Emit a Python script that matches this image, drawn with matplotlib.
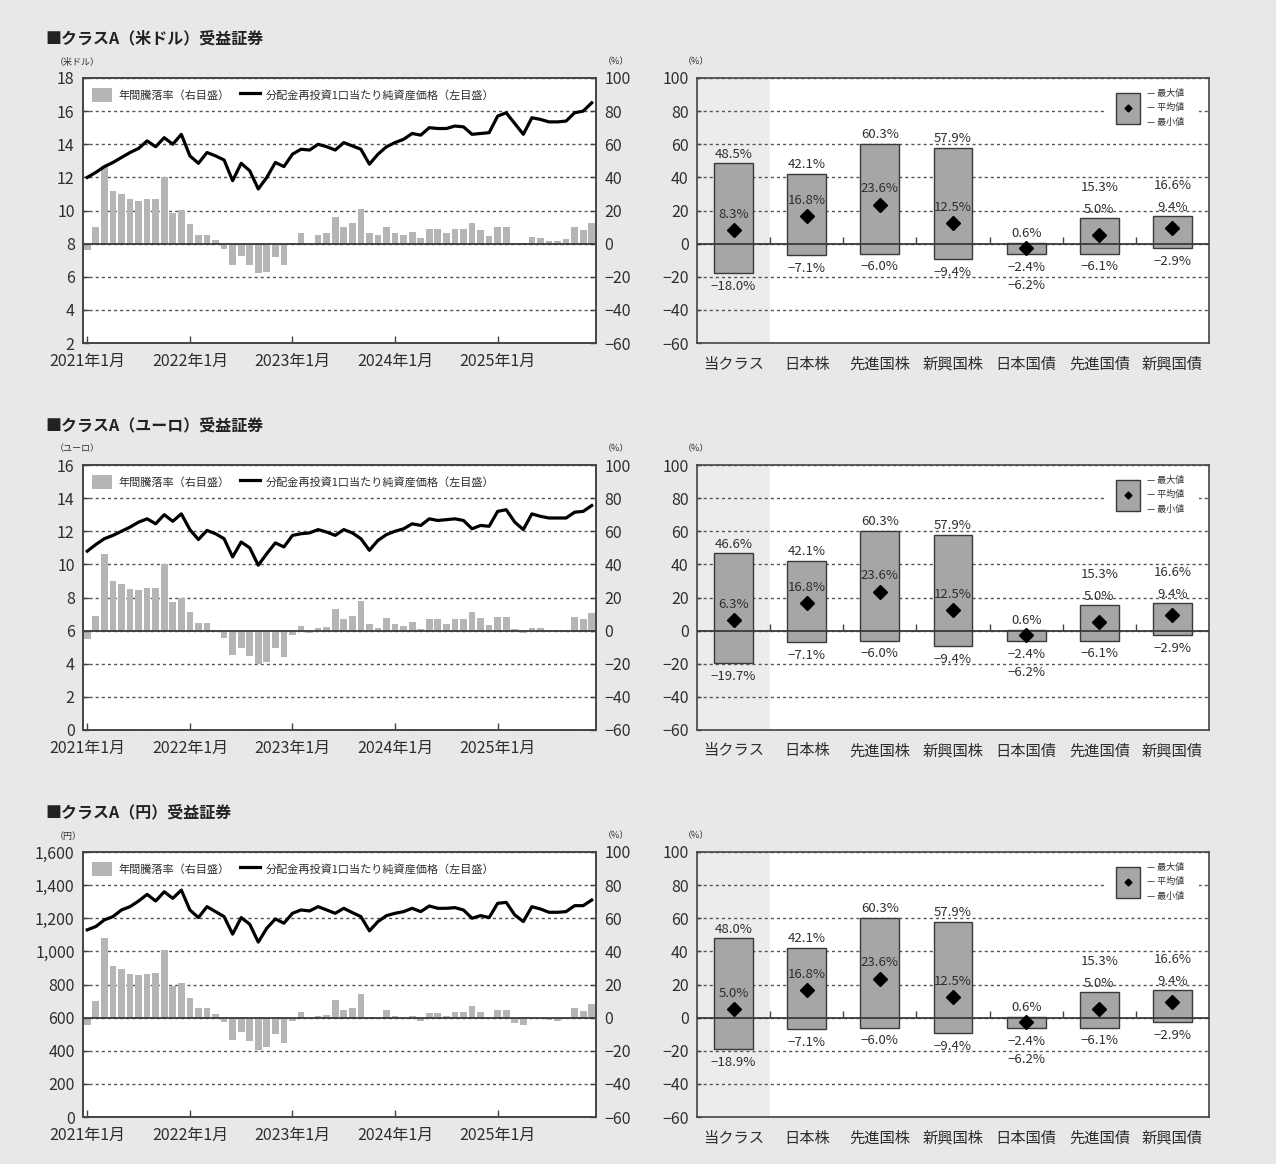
import numpy as np
import matplotlib
matplotlib.use("Agg")
import matplotlib.pyplot as plt
from matplotlib.patches import Patch, Rectangle
from matplotlib.lines import Line2D
from matplotlib.ticker import FuncFormatter

plt.rcParams["font.family"] = ["Noto Sans CJK JP", "DejaVu Sans"]
plt.rcParams["axes.unicode_minus"] = True

# ---------------- data ----------------
year_ticks = [0, 12, 24, 36, 48]
year_labels = ["2021年1月", "2022年1月", "2023年1月", "2024年1月", "2025年1月"]

titles = ["■クラスA（米ドル）受益証券", "■クラスA（ユーロ）受益証券", "■クラスA（円）受益証券"]
price_units = ["（米ドル）", "（ユーロ）", "（円）"]

# NAV per unit with distributions reinvested (monthly, Jan 2021 - Dec 2025)
nav_usd = [12.0, 12.3, 12.65, 12.9, 13.2, 13.5, 13.75, 14.2, 13.85, 14.4,
           14.0, 14.6, 13.3, 12.85, 13.5, 13.3, 13.05, 11.8, 12.85, 12.4,
           11.3, 12.0, 12.9, 12.65, 13.4, 13.7, 13.65, 14.0, 13.85, 13.65,
           14.1, 13.9, 13.7, 12.8, 13.4, 13.85, 14.1, 14.3, 14.65, 14.55,
           15.0, 14.95, 14.95, 15.1, 15.05, 14.6, 14.65, 14.7, 15.7, 15.9,
           15.25, 14.6, 15.6, 15.5, 15.35, 15.35, 15.4, 15.9, 16.0, 16.5]
nav_eur = [10.8, 11.2, 11.55, 11.75, 12.0, 12.25, 12.55, 12.75, 12.45, 13.0,
           12.6, 13.05, 12.1, 11.5, 12.05, 11.85, 11.55, 10.45, 11.35, 11.0,
           9.95, 10.65, 11.3, 11.05, 11.75, 11.85, 11.9, 12.1, 11.95, 11.75,
           12.1, 11.9, 11.55, 10.85, 11.45, 11.8, 12.0, 12.15, 12.45, 12.35,
           12.75, 12.65, 12.7, 12.75, 12.65, 12.15, 12.35, 12.3, 13.2, 13.3,
           12.55, 12.1, 13.05, 12.9, 12.8, 12.8, 12.8, 13.15, 13.2, 13.55]
nav_jpy = [1130, 1150, 1190, 1210, 1250, 1270, 1304, 1344, 1304, 1360,
           1320, 1370, 1250, 1204, 1270, 1240, 1210, 1104, 1204, 1164,
           1056, 1140, 1196, 1170, 1230, 1250, 1244, 1270, 1250, 1230,
           1260, 1234, 1210, 1124, 1180, 1216, 1230, 1240, 1260, 1240,
           1274, 1260, 1260, 1264, 1250, 1200, 1216, 1204, 1290, 1296,
           1220, 1180, 1270, 1256, 1236, 1236, 1240, 1276, 1276, 1310]

# 12-month returns (%)
ret_usd = [-4, 10, 47, 32, 30, 27, 25.5, 27, 27, 40,
           18.5, 20.5, 12, 5, 5.5, 2, -3, -13, -7.5, -13,
           -17.5, -17, -8, -13, 0.3, 6.5, 0.5, 5.5, 6.5, 16,
           10, 12.4, 21, 6.4, 5, 10, 6.4, 5, 7, 3.4,
           8.6, 9, 6.4, 9, 9, 12.4, 8.4, 4.6, 10, 10,
           0.5, 0.2, 4, 3.6, 1.6, 1.6, 2.6, 10, 8.4, 12.4]
ret_eur = [-5, 8.8, 46, 30, 28, 25, 24.5, 26, 26, 40,
           17.5, 20, 11, 4.4, 4.4, 0.4, -4.6, -14.6, -10.6, -15.6,
           -20, -19, -10.6, -16, -2.6, 2.8, -1.2, 1.4, 2.4, 12.8,
           6.8, 8.8, 17.8, 3.8, 1.8, 7.4, 3.8, 2.8, 5.4, 1,
           6.8, 6.8, 4, 7, 7, 11.2, 7.4, 3.4, 8, 8,
           0.8, -1.2, 1.8, 1.4, 0.4, 0.2, 0.6, 8, 6.8, 10.4]
ret_jpy = [-4.4, 10, 48, 31, 29.6, 26.6, 26, 26.6, 27.2, 40.6,
           19, 21, 11.6, 5.6, 5.6, 2, -2.4, -13.4, -8.8, -14,
           -19.4, -18, -10, -15.4, -2, 3.6, -0.8, 1, 1.6, 10.6,
           4.6, 6, 14, 0.6, -0.6, 4.4, 0.8, -0.4, 1, -2,
           2.6, 2.6, 0.8, 3.2, 3.2, 7, 3.2, 0, 4.6, 4.6,
           -3.4, -4.4, 0, -0.4, -1.4, -2, -1, 5.6, 4, 8.4]

nav_series = [nav_usd, nav_eur, nav_jpy]
ret_series = [ret_usd, ret_eur, ret_jpy]
nav_limits = [(2, 18, 2), (0, 16, 2), (0, 1600, 200)]

# comparison with other asset classes (max / mean / min of 12-month returns, %)
categories = ["当クラス", "日本株", "先進国株", "新興国株", "日本国債", "先進国債", "新興国債"]
asset_max = [42.1, 60.3, 57.9, 0.6, 15.3, 16.6]
asset_avg = [16.8, 23.6, 12.5, -2.4, 5.0, 9.4]
asset_min = [-7.1, -6.0, -9.4, -6.2, -6.1, -2.9]
class_max = [48.5, 46.6, 48.0]
class_avg = [8.3, 6.3, 5.0]
class_min = [-18.0, -19.7, -18.9]

legend_ret = "年間騰落率（右目盛）"
legend_nav = "分配金再投資1口当たり純資産価格（左目盛）"
range_labels = ["最大値", "平均値", "最小値"]

# ---------------- styling ----------------
W, H = 1276, 1164
BG = "#e8e8e8"
TXT = "#2e2e2e"
SPINE = "#444444"
BAR = "#b5b5b5"
BOX = "#a6a6a6"
GRID_LS = (0, (2.2, 2.2))


def rect(x0, y0, x1, y1):
    return [x0 / W, 1 - y1 / H, (x1 - x0) / W, (y1 - y0) / H]


def minus(s):
    return s.replace("-", "\u2212")


fig = plt.figure(figsize=(W / 100, H / 100), dpi=100, facecolor=BG)

row_step = 387
for r in range(3):
    dy = r * row_step
    top, bottom = 78 + dy, 343 + dy

    fig.text(45 / W, 1 - (38 + dy) / H, titles[r], fontsize=11.5, fontweight="bold",
             color="#222222", va="center", ha="left")

    # ---------- left: NAV line + annual return bars ----------
    axp = fig.add_axes(rect(83, top, 596, bottom))
    axr = axp.twinx()
    axp.set_zorder(axr.get_zorder() + 1)
    axp.patch.set_visible(False)
    axr.patch.set_visible(True)
    axr.patch.set_facecolor("white")

    x = np.arange(len(ret_series[r]))
    axr.bar(x, ret_series[r], width=0.78, color=BAR, zorder=2)
    axr.set_ylim(-60, 100)
    axr.set_yticks(range(-60, 101, 20))
    axr.yaxis.set_major_formatter(FuncFormatter(lambda v, _: minus(f"{int(v)}")))
    axr.set_axisbelow(True)
    axr.yaxis.grid(True, linestyle=GRID_LS, color="#555555", linewidth=1.0)
    axr.axhline(0, color="#3a3a3a", linewidth=1.3, zorder=3)

    axp.plot(x, nav_series[r], color="black", linewidth=2.3, zorder=4)
    lo, hi, step = nav_limits[r]
    axp.set_ylim(lo, hi)
    axp.set_yticks(np.arange(lo, hi + step / 2, step))
    if r == 2:
        axp.yaxis.set_major_formatter(FuncFormatter(lambda v, _: f"{int(v):,}"))
    else:
        axp.yaxis.set_major_formatter(FuncFormatter(lambda v, _: f"{int(v)}"))
    axp.set_xlim(-0.5, len(x) - 0.5)
    axp.set_xticks(year_ticks)
    axp.set_xticklabels(year_labels)

    for a in (axp, axr):
        for s in a.spines.values():
            s.set_color(SPINE)
            s.set_linewidth(1.2)
        a.tick_params(axis="both", direction="in", length=4, width=1, color=SPINE,
                      labelsize=11.5, labelcolor=TXT, pad=6)
    axp.tick_params(axis="x", length=5, pad=7)

    handles = [Patch(facecolor=BAR, edgecolor="none"),
               Line2D([], [], color="black", linewidth=2.3)]
    leg = axp.legend(handles, [legend_ret, legend_nav], loc="upper left",
                     bbox_to_anchor=(0.012, 0.975), ncol=2, fontsize=8,
                     frameon=True, facecolor="white", edgecolor="none", framealpha=1,
                     handlelength=1.8, handleheight=1.6, handletextpad=0.5,
                     columnspacing=1.0, borderpad=0.3, borderaxespad=0.0)
    for t in leg.get_texts():
        t.set_color(TXT)
    leg.get_frame().set_boxstyle("square", pad=0)

    fig.text(55 / W, 1 - (62 + dy) / H, price_units[r], fontsize=6.5, color=TXT,
             ha="left", va="center")
    fig.text(603 / W, 1 - (62 + dy) / H, "（%）", fontsize=6.5, color=TXT,
             ha="left", va="center")

    # ---------- right: range of returns by asset class ----------
    ax = fig.add_axes(rect(697, top, 1209, bottom))
    ax.set_facecolor("white")
    vmax = [class_max[r]] + asset_max
    vavg = [class_avg[r]] + asset_avg
    vmin = [class_min[r]] + asset_min
    cx = np.arange(len(categories))

    ax.axvspan(-0.5, 0.5, color="#ececec", zorder=0, linewidth=0)
    ax.set_xlim(-0.5, len(categories) - 0.5)
    ax.set_ylim(-60, 100)
    ax.set_yticks(range(-60, 101, 20))
    ax.yaxis.set_major_formatter(FuncFormatter(lambda v, _: minus(f"{int(v)}")))
    ax.set_axisbelow(True)
    ax.yaxis.grid(True, linestyle=GRID_LS, color="#555555", linewidth=1.0)

    ax.bar(cx, np.subtract(vmax, vmin), bottom=vmin, width=0.53, color=BOX,
           edgecolor="#3a3a3a", linewidth=1.0, zorder=2)
    ax.axhline(0, color="#3a3a3a", linewidth=1.3, zorder=3)
    ax.plot(cx[:-1] + 0.5, np.zeros(len(cx) - 1), linestyle="none", marker=2,
            markersize=5, markeredgewidth=1.0, color="#444444", zorder=3)
    ax.plot(cx, vavg, linestyle="none", marker="D", markersize=7, color="black", zorder=4)

    def pct(v):
        return minus(f"{v:.1f}%")

    lab_kw = dict(fontsize=9.5, color=TXT, ha="center", va="center", zorder=5)
    for i in range(len(categories)):
        hi_v, av, lo_v = vmax[i], vavg[i], vmin[i]
        if av < 0:
            ax.text(i, hi_v + 5.5, pct(hi_v), **lab_kw)
            ax.text(i, lo_v - 8, pct(av), **lab_kw)
            ax.text(i, lo_v - 19, pct(lo_v), **lab_kw)
        elif hi_v - av < 15:
            ax.text(i, hi_v + 18.5, pct(hi_v), **lab_kw)
            ax.text(i, hi_v + 5.5, pct(av), **lab_kw)
            ax.text(i, lo_v - 8, pct(lo_v), **lab_kw)
        else:
            ax.text(i, hi_v + 5.5, pct(hi_v), **lab_kw)
            ax.text(i, av + 9.5, pct(av), **lab_kw)
            ax.text(i, lo_v - 8, pct(lo_v), **lab_kw)

    ax.set_xticks(cx)
    ax.set_xticklabels(categories)
    for s in ax.spines.values():
        s.set_color(SPINE)
        s.set_linewidth(1.2)
    ax.tick_params(axis="y", direction="in", length=3, width=1, color=SPINE,
                   labelsize=11.5, labelcolor=TXT, pad=6)
    ax.tick_params(axis="x", length=0, labelsize=11, labelcolor=TXT, pad=9)

    # key for max / mean / min
    ax.add_patch(Rectangle((0.80, 0.80), 0.18, 0.17, transform=ax.transAxes,
                           facecolor="white", edgecolor="none", zorder=5))
    ax.add_patch(Rectangle((0.819, 0.827), 0.046, 0.115, transform=ax.transAxes,
                           facecolor=BOX, edgecolor="#3a3a3a", linewidth=1.0, zorder=6))
    ax.plot([0.842], [0.885], transform=ax.transAxes, marker="D", markersize=3.5,
            color="black", zorder=7)
    for k, yy in enumerate([0.94, 0.887, 0.833]):
        ax.text(0.878, yy, "— " + range_labels[k], transform=ax.transAxes,
                fontsize=6.5, color=TXT, ha="left", va="center", zorder=7)

    fig.text(683 / W, 1 - (62 + dy) / H, "（%）", fontsize=6.5, color=TXT,
             ha="left", va="center")

fig.savefig("out.png", dpi=100, facecolor=BG)
